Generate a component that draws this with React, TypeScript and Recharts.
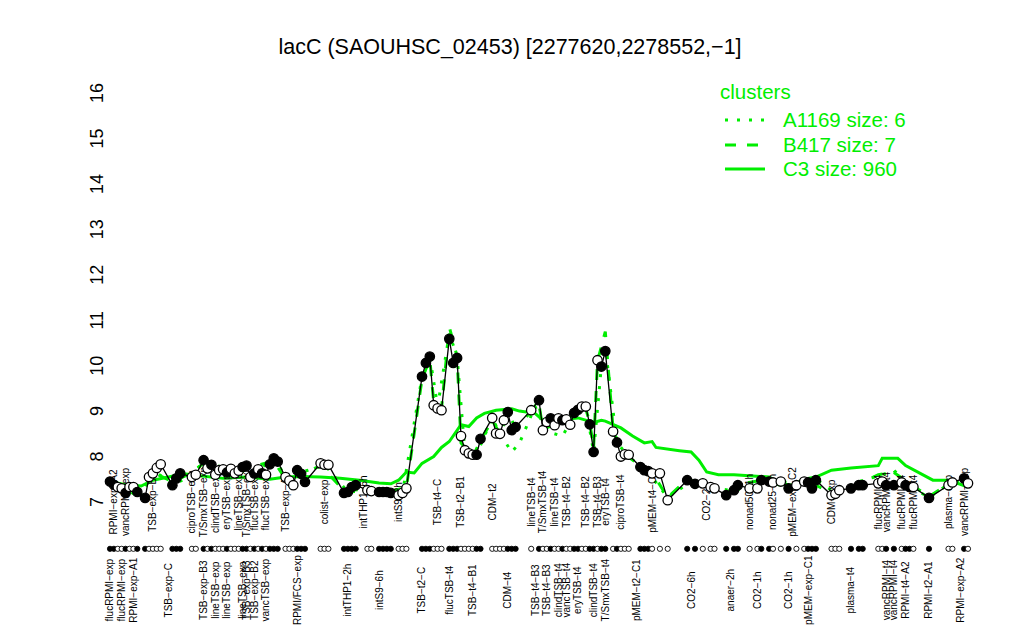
import React from 'react';
import { ComposedChart, Line, Scatter, XAxis, YAxis } from 'recharts';

const GREEN = '#00ee00';
const FONT = '"Liberation Sans", Arial, sans-serif';

// sample order on the x axis, lacC value, 1 = filled circle
const genePos = [
  1, 2, 3, 4, 5, 6, 7, 8, 10, 11, 12, 13, 14, 17, 18, 19, 22, 23,
  25, 26, 27, 28, 29, 30, 31, 32, 33, 34, 35, 36, 37, 38, 39, 40, 41, 42, 43, 44,
  46, 47, 48, 49, 50, 51, 55, 56, 57, 61, 62, 63, 64, 67, 68, 70, 71, 72, 73, 75, 76, 77,
  81, 82, 83, 84, 85, 86, 88, 89, 90, 91, 92, 93, 94, 95, 96, 99, 100, 101, 102, 103, 104, 105,
  109, 111, 112, 113, 114, 115, 116, 117, 118, 119, 120, 121, 122, 123, 124, 125, 126, 127, 128,
  130, 131, 132, 133, 134, 137, 138, 139, 140, 142, 144, 149, 151, 153, 155, 156, 159, 161, 162,
  165, 167, 168, 170, 171, 173, 175, 177, 179, 180, 181, 182, 186, 187, 188, 191, 193, 194,
  198, 199, 200, 202, 204, 205, 206, 207, 211, 216, 217, 220, 221,
];
const geneVal = [
  7.45, 7.38, 7.33, 7.3, 7.2, 7.33, 7.33, 7.22, 7.09, 7.55, 7.63, 7.75, 7.83, 7.37, 7.52, 7.63, 7.55, 7.6,
  7.92, 7.74, 7.82, 7.6, 7.7, 7.72, 7.65, 7.73, 7.63, 7.69, 7.77, 7.8, 7.55, 7.63, 7.72, 7.63, 7.6, 7.83, 7.96, 7.89,
  7.55, 7.47, 7.37, 7.7, 7.62, 7.44, 7.85, 7.82, 7.82, 7.2, 7.22, 7.33, 7.37, 7.26, 7.24, 7.22, 7.22, 7.22, 7.2, 7.15, 7.2, 7.3,
  9.76, 10.06, 10.2, 9.13, 9.06, 9.02, 10.59, 10.06, 10.17, 8.45, 8.14, 8.07, 8.04, 8.04, 8.39, 8.85, 8.51, 8.5, 8.8, 8.98, 8.58, 8.65,
  9.02, 9.24, 8.58, 8.76, 8.84, 8.69, 8.84, 8.8, 8.82, 8.7, 8.96, 9.03, 9.1, 9.1, 8.71, 8.1, 10.12, 9.98, 10.32,
  8.55, 8.31, 8.0, 8.05, 8.04, 7.77, 7.7, 7.68, 7.63, 7.63, 7.04, 7.48, 7.4, 7.41, 7.33, 7.3, 7.15, 7.26, 7.37,
  7.3, 7.3, 7.48, 7.45, 7.43, 7.45, 7.3, 7.37, 7.45, 7.43, 7.3, 7.48, 7.15, 7.18, 7.26, 7.3, 7.37, 7.37,
  7.41, 7.45, 7.37, 7.37, 7.43, 7.37, 7.33, 7.33, 7.09, 7.37, 7.43, 7.52, 7.41,
];
const geneFill = [
  1, 1, 0, 0, 1, 0, 0, 1, 1, 0, 0, 0, 0, 1, 1, 1, 0, 0,
  1, 0, 1, 0, 0, 0, 1, 0, 0, 0, 1, 1, 0, 1, 0, 1, 0, 1, 1, 1,
  0, 0, 0, 1, 1, 1, 0, 0, 0, 1, 1, 1, 1, 0, 0, 1, 1, 1, 1, 0, 0, 0,
  1, 1, 1, 0, 0, 0, 1, 1, 1, 0, 0, 0, 0, 1, 1, 0, 0, 0, 0, 1, 1, 1,
  0, 1, 0, 0, 1, 0, 0, 1, 0, 0, 1, 1, 0, 0, 1, 1, 0, 1, 1,
  0, 1, 0, 0, 0, 1, 1, 1, 0, 0, 0, 1, 1, 0, 0, 0, 1, 1, 1,
  0, 0, 1, 1, 0, 0, 1, 0, 0, 1, 1, 1, 0, 0, 0, 1, 1, 1,
  0, 0, 1, 1, 0, 1, 1, 0, 1, 0, 0, 1, 0,
];

// cluster C3 (mean profile)
const c3Pos = [
  1, 5, 9, 12, 16, 20, 24, 30, 36, 42, 46, 50, 55, 60, 65, 70, 73, 75, 77, 79, 81, 84, 86, 88, 91, 93, 95, 97,
  100, 104, 106, 110, 112, 115, 121, 125, 127, 128, 132, 135, 138, 140, 141, 147, 150, 152, 154, 157, 161,
  170, 173, 176, 179, 182, 186, 191, 198, 199, 203, 205, 212, 216, 221,
];
const c3Val = [
  7.45, 7.38, 7.35, 7.48, 7.55, 7.62, 7.58, 7.52, 7.55, 7.5, 7.55, 7.56, 7.55, 7.52, 7.48, 7.42, 7.4, 7.48, 7.66, 7.64, 7.85, 8.0, 8.2, 8.33, 8.7, 8.66, 8.85, 8.95,
  9.02, 9.05, 9.0, 8.95, 8.8, 8.8, 8.85, 8.75, 8.8, 8.78, 8.63, 8.45, 8.3, 8.33, 8.2, 8.13, 8.1, 7.92, 7.66, 7.6, 7.6,
  7.55, 7.4, 7.37, 7.5, 7.55, 7.7, 7.75, 7.8, 7.96, 7.96, 7.8, 7.48, 7.48, 7.33,
];

// cluster B417
const b417Pos = [
  1, 9, 12, 17, 21, 25, 30, 36, 43, 46, 50, 55, 61, 66, 72, 77, 81, 83, 84, 86, 88, 90, 91, 94, 96, 99, 101, 103, 105,
  111, 112, 115, 118, 121, 123, 124, 125, 126, 128, 130, 131, 133, 137, 140, 144, 149, 153, 159, 162, 168, 175, 180,
  186, 191, 198, 202, 207, 211, 216, 221,
];
const b417Val = [
  7.45, 7.15, 7.65, 7.45, 7.6, 7.85, 7.7, 7.75, 7.9, 7.5, 7.6, 7.8, 7.25, 7.28, 7.22, 7.32, 9.7, 10.15, 9.2, 9.05, 10.85, 10.2, 8.3, 8.0, 8.35, 8.8, 8.5, 8.95, 8.65,
  9.15, 8.6, 8.7, 8.8, 9.0, 9.05, 8.75, 8.2, 10.1, 10.75, 8.6, 8.35, 8.05, 7.8, 7.65, 7.1, 7.5, 7.4, 7.2, 7.38, 7.48, 7.32, 7.45,
  7.2, 7.32, 7.6, 7.65, 7.35, 7.12, 7.4, 7.45,
];

// cluster A1169
const a1169Pos = [
  1, 9, 12, 17, 22, 25, 32, 38, 43, 47, 50, 56, 62, 67, 72, 76, 81, 83, 85, 88, 90, 92, 95, 99, 101, 104, 106,
  110, 113, 117, 120, 123, 125, 127, 128, 131, 134, 139, 144, 150, 156, 161, 170, 178, 182, 187, 193, 199, 202, 206,
  211, 217, 221,
];
const a1169Val = [
  7.45, 7.1, 7.7, 7.4, 7.55, 7.9, 7.7, 7.65, 7.95, 7.45, 7.65, 7.82, 7.22, 7.25, 7.2, 7.2, 9.75, 10.2, 9.1, 10.7, 10.2, 8.1, 8.05, 8.85, 8.5, 8.1, 8.3,
  9.1, 8.55, 8.45, 8.9, 9.1, 8.1, 10.0, 10.4, 8.3, 8.0, 7.65, 7.1, 7.45, 7.3, 7.25, 7.45, 7.42, 7.5, 7.2, 7.45, 7.6, 7.7, 7.35,
  7.1, 7.45, 7.4,
];

const upperPos = [
  2, 5, 12, 22, 25, 28, 31, 34, 36, 38, 41, 46, 56, 66, 75, 85, 91, 99, 109, 112, 115, 118, 123, 126, 128, 132, 140,
  154, 165, 171, 176, 186, 198, 200, 204, 207, 216, 220,
];
const upperText = [
  'RPMI−exp−A2', 'vancRPMI−exp', 'TSB−exp−B1', 'ciproTSB−exp', 'T/SmxTSB−exp', 'clindTSB−exp', 'eryTSB−exp',
  'lineTSB−exp', 'T/SmxTSB−exp', 'flucTSB−exp', 'flucTSB−exp', 'TSB−exp−A1', 'colist−exp', 'intTHP1−6h', 'intS9−2h',
  'TSB−t4−C', 'TSB−t2−B1', 'CDM−t2', 'lineTSB−t4', 'T/SmxTSB−t4', 'lineTSB−t4', 'TSB−t4−B2', 'TSB−t4−B2',
  'TSB−t4−B3', 'eryTSB−t4', 'ciproTSB−t4', 'pMEM−t4−C1', 'CO2−2h', 'nonad50−1h', 'nonad25−1h', 'pMEM−exp−C2',
  'CDM−exp', 'flucRPMI−t4', 'vancRPMI−t4', 'flucRPMI−t4', 'flucRPMI−t4', 'plasma−exp', 'vancRPMI−exp',
];

const lowerPos = [
  1, 4, 7, 16, 25, 28, 31, 35, 36, 38, 41, 49, 62, 70, 81, 88, 94, 103, 110, 113, 116, 118, 121, 125, 128, 136,
  150, 160, 167, 175, 180, 191, 200, 202, 205, 211, 219,
];
const lowerText = [
  'flucRPMI−exp', 'flucRPMI−exp', 'RPMI−exp−A1', 'TSB−exp−C', 'TSB−exp−B3', 'lineTSB−exp', 'lineTSB−exp',
  'lineTSB−exp', 'TSB−exp−B3', 'TSB−exp−B2', 'vancTSB−exp', 'RPMI/FCS−exp', 'intTHP1−2h', 'intS9−6h', 'TSB−t2−C',
  'flucTSB−t4', 'TSB−t4−B1', 'CDM−t4', 'TSB−t4−B3', 'TSB−t4−B3', 'clindTSB−t4', 'vancTSB−t4', 'eryTSB−t4',
  'clindTSB−t4', 'T/SmxTSB−t4', 'pMEM−t2−C1', 'CO2−6h', 'anaer−2h', 'CO2−1h', 'CO2−1h', 'pMEM−exp−C1',
  'plasma−t4', 'vancRPMI−t4', 'vancRPMI−t4', 'RPMI−t4−A2', 'RPMI−t2−A1', 'RPMI−exp−A2',
];

const yTicks = [7, 8, 9, 10, 11, 12, 13, 14, 15, 16];

const STRIP_Y = 5.97;
const UPPER_Y = 7;
const LOWER_Y = 5.06;

const rowMap = new Map<number, any>();
const put = (pos: number, key: string, v: number) => {
  const r = rowMap.get(pos) ?? { pos };
  r[key] = v;
  rowMap.set(pos, r);
};
genePos.forEach((p, i) => {
  put(p, 'gene', geneVal[i]);
  put(p, 'filled', geneFill[i]);
});
c3Pos.forEach((p, i) => put(p, 'c3', c3Val[i]));
b417Pos.forEach((p, i) => put(p, 'b417', b417Val[i]));
a1169Pos.forEach((p, i) => put(p, 'a1169', a1169Val[i]));
const data = [...rowMap.values()].sort((a, b) => a.pos - b.pos);

const stripData = genePos.map((p, i) => ({ pos: p, y: STRIP_Y, filled: geneFill[i] }));
const upperData = upperPos.map((p, i) => ({ pos: p, y: UPPER_Y, text: upperText[i] }));
const lowerData = lowerPos.map((p, i) => ({ pos: p, y: LOWER_Y, text: lowerText[i] }));

const GeneDot = (props: any) => {
  const { cx, cy, payload, index } = props;
  if (payload == null || payload.gene == null || cy == null) return <g key={`g${index}`} />;
  return (
    <circle
      key={`g${index}`}
      cx={cx}
      cy={cy}
      r={4.7}
      fill={payload.filled ? '#000' : '#fff'}
      stroke="#000"
      strokeWidth={1.3}
    />
  );
};

const YTick = (props: any) => {
  const { y, payload } = props;
  return (
    <text
      x={103}
      y={y}
      transform={`rotate(-90, 103, ${y})`}
      textAnchor="middle"
      fontSize={18}
      fontFamily={FONT}
      fill="#000"
    >
      {payload.value}
    </text>
  );
};

// rotated sample label, centred on its anchor
const RotLabel = (p: any) => (
  <text
    x={p.cx}
    y={p.cy}
    transform={`rotate(-90, ${p.cx}, ${p.cy})`}
    textAnchor="middle"
    dominantBaseline="central"
    fontSize={10}
    fontFamily={FONT}
    fill="#000"
  >
    {p.payload.text}
  </text>
);

export default function App() {
  return (
    <div style={{ position: 'absolute', left: 0, top: 0, width: 1024, height: 640, background: '#fff' }}>
      <ComposedChart width={1024} height={640} data={data} margin={{ top: 93, right: 36.5, left: 60.5, bottom: 1.67 }}>
        <XAxis type="number" dataKey="pos" domain={[-4, 226]} hide />
        <YAxis
          type="number"
          domain={[4, 16]}
          ticks={yTicks}
          interval={0}
          width={30}
          axisLine={false}
          tickLine={false}
          tick={YTick}
        />
        <Scatter data={upperData} dataKey="y" isAnimationActive={false} shape={RotLabel} />
        <Scatter data={lowerData} dataKey="y" isAnimationActive={false} shape={RotLabel} />
        <Scatter
          data={stripData}
          dataKey="y"
          isAnimationActive={false}
          shape={(p: any) => (
            <circle
              cx={p.cx}
              cy={p.cy}
              r={2.6}
              fill={p.payload.filled ? '#000' : '#fff'}
              stroke="#000"
              strokeWidth={0.9}
            />
          )}
        />
        <Line
          dataKey="c3"
          stroke={GREEN}
          strokeWidth={3}
          dot={false}
          activeDot={false}
          connectNulls
          isAnimationActive={false}
        />
        <Line
          dataKey="b417"
          stroke={GREEN}
          strokeWidth={3}
          strokeDasharray="11 11"
          dot={false}
          activeDot={false}
          connectNulls
          isAnimationActive={false}
        />
        <Line
          dataKey="a1169"
          stroke={GREEN}
          strokeWidth={3}
          strokeDasharray="3 9"
          dot={false}
          activeDot={false}
          connectNulls
          isAnimationActive={false}
        />
        <Line
          dataKey="gene"
          stroke="#000"
          strokeWidth={1.3}
          dot={GeneDot}
          activeDot={false}
          connectNulls
          isAnimationActive={false}
        />
      </ComposedChart>
      <svg
        width={1024}
        height={640}
        style={{ position: 'absolute', left: 0, top: 0, pointerEvents: 'none' }}
        fontFamily={FONT}
      >
        <text x={510} y={54} textAnchor="middle" fontSize={21.5} fill="#000">
          lacC (SAOUHSC_02453) [2277620,2278552,−1]
        </text>
        <text x={720} y={99} fontSize={20.5} fill={GREEN}>clusters</text>
        <line x1={725} x2={765} y1={120} y2={120} stroke={GREEN} strokeWidth={3} strokeDasharray="3 9" />
        <text x={783} y={127} fontSize={20.5} fill={GREEN}>A1169 size: 6</text>
        <line x1={725} x2={765} y1={145} y2={145} stroke={GREEN} strokeWidth={3} strokeDasharray="11 11" />
        <text x={783} y={152} fontSize={20.5} fill={GREEN}>B417 size: 7</text>
        <line x1={725} x2={765} y1={169} y2={169} stroke={GREEN} strokeWidth={3} />
        <text x={783} y={176} fontSize={20.5} fill={GREEN}>C3 size: 960</text>
      </svg>
    </div>
  );
}
